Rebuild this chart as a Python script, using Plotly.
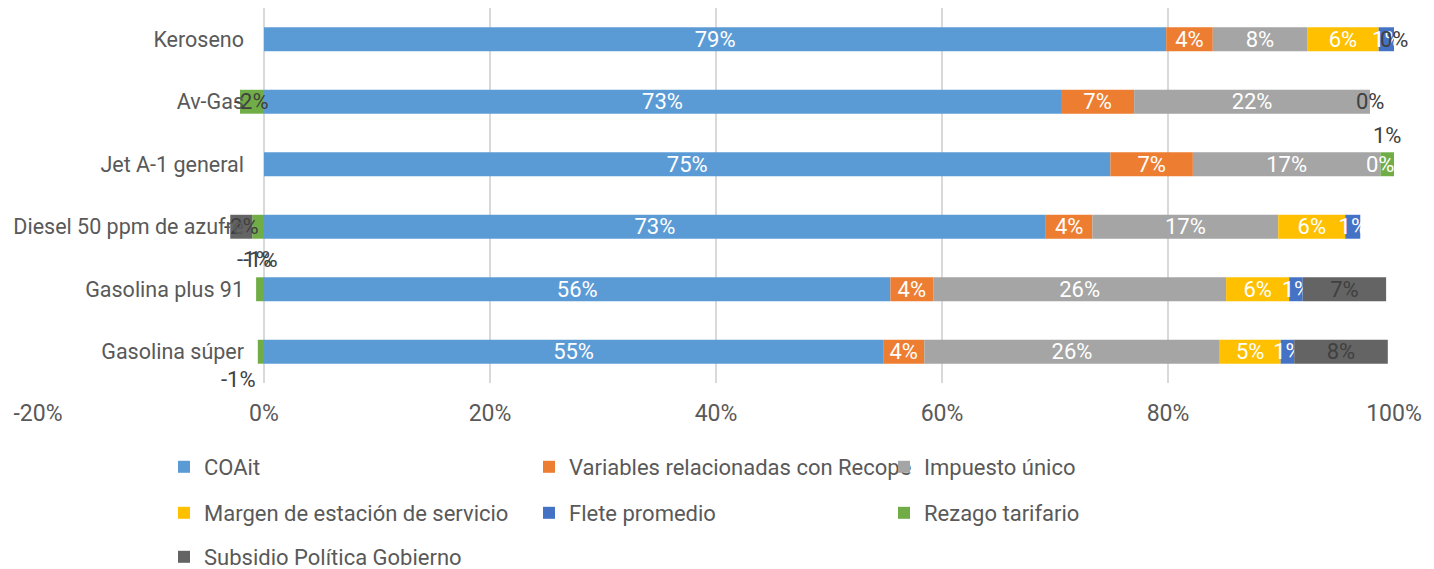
import plotly.graph_objects as go

# ---------------- data (shares of final price, %) ----------------
categories = ["Keroseno", "Av-Gas", "Jet A-1 general",
              "Diesel 50 ppm de azufre", "Gasolina plus 91", "Gasolina súper"]

coait     = [79.4, 73.0, 74.9, 73.0, 55.6, 54.9]
variables = [4.1, 6.7, 7.3, 4.35, 3.8, 3.65]
impuesto  = [8.3, 21.6, 16.6, 17.35, 26.0, 26.2]
margen    = [6.3, None, 0.0, 6.26, 5.6, 5.4]
flete     = [1.35, None, None, 1.40, 1.2, 1.2]
rezago    = [None, -2.2, 1.2, -1.1, -0.7, -0.55]
subsidio  = [0.0, 0.0, 0.0, -2.05, 7.4, 8.3]

series_names = ["COAit", "Variables relacionadas con Recope", "Impuesto único",
                "Margen de estación de servicio", "Flete promedio",
                "Rezago tarifario", "Subsidio Política Gobierno"]
series_values = [coait, variables, impuesto, margen, flete, rezago, subsidio]

x_ticks = [-20, 0, 20, 40, 60, 80, 100]

# ---------------- style ----------------
colors = ["#5B9BD5", "#ED7D31", "#A5A5A5", "#FFC000", "#4472C4", "#70AD47", "#646464"]
label_colors = ["white", "white", "white", "white", "white", "#404040", "#404040"]
FONT = "Roboto, sans-serif"
FS_LABEL = 22
FS_CAT = 21.5
FS_TICK = 23
FS_LEG = 22
GREY = "#595959"

# legend entry placement (pixel position of each entry's left edge / row centre)
legend_cols = [164, 529, 884]
legend_rows = [467, 513, 557]

# 100% stacked: each category normalised by the sum of absolute values
totals = [sum(abs(s[j]) for s in series_values if s[j] is not None)
          for j in range(len(categories))]


def norm(v, j):
    return None if v is None else v / totals[j] * 100


fig = go.Figure()
legend_ids = []
for i, (name, vals) in enumerate(zip(series_names, series_values)):
    lid = "legend" if i == 0 else f"legend{i + 1}"
    legend_ids.append(lid)
    xs = [norm(v, j) for j, v in enumerate(vals)]
    texts = ["" if (v is None or v == 0 or name == "Rezago tarifario") else f"{v:.0f}%"
             for v in vals]
    fig.add_trace(go.Bar(
        y=categories, x=xs, orientation="h", name=name,
        marker=dict(color=colors[i], line=dict(width=0)),
        text=texts, textposition="inside", insidetextanchor="middle", textangle=0,
        textfont=dict(color=label_colors[i], size=FS_LABEL, family=FONT),
        legend=lid, hoverinfo="skip", cliponaxis=False,
    ))

# labels for zero-size segments and for the "Rezago tarifario" series
rezago_offsets = {"Av-Gas": (0, 0), "Jet A-1 general": (0, 29),
                  "Diesel 50 ppm de azufre": (-4, -33), "Gasolina plus 91": (0, 30),
                  "Gasolina súper": (-22, -28)}
annotations = []
for j, cat in enumerate(categories):
    pos = 0.0
    neg = 0.0
    for i, vals in enumerate(series_values):
        v = vals[j]
        if v is None:
            continue
        n = norm(v, j)
        if series_names[i] == "Rezago tarifario":
            base = pos if v >= 0 else neg
            dx, dy = rezago_offsets.get(cat, (0, 0))
            annotations.append(dict(x=base + n / 2, y=cat, xref="x", yref="y",
                                    text=f"{v:.0f}%", showarrow=False,
                                    xshift=dx, yshift=dy,
                                    font=dict(size=FS_LABEL, family=FONT,
                                              color=label_colors[i])))
        elif v == 0:
            annotations.append(dict(x=pos, y=cat, xref="x", yref="y",
                                    text=f"{v:.0f}%", showarrow=False,
                                    font=dict(size=FS_LABEL, family=FONT,
                                              color=label_colors[i])))
        if v >= 0:
            pos += n
        else:
            neg += n

W, H = 1434, 569
L, R, T, B = 38, 40, 8, 186
plot_w = W - L - R
plot_h = H - T - B


def px_x(p):
    return (p - L) / plot_w


def px_y(p):
    return (H - B - p) / plot_h


legend_layout = {}
for i, lid in enumerate(legend_ids):
    legend_layout[lid] = dict(
        orientation="h", xanchor="left", yanchor="middle",
        x=px_x(legend_cols[i % 3]), y=px_y(legend_rows[i // 3]),
        font=dict(size=FS_LEG, family=FONT, color=GREY),
        bgcolor="rgba(0,0,0,0)", itemclick=False, itemdoubleclick=False)

fig.update_layout(
    width=W, height=H,
    margin=dict(l=L, r=R, t=T, b=B, autoexpand=False),
    barmode="relative", bargap=0.617,
    plot_bgcolor="white", paper_bgcolor="white",
    font=dict(family=FONT, size=FS_LEG, color=GREY),
    showlegend=True,
    xaxis=dict(range=[-20, 100], tickvals=x_ticks,
               ticktext=[f"{t}%" for t in x_ticks],
               showgrid=True, gridcolor="#D9D9D9", gridwidth=1.5,
               zeroline=False, showline=False, ticks="",
               ticklabelstandoff=14,
               tickfont=dict(size=FS_TICK, family=FONT, color=GREY), fixedrange=True),
    yaxis=dict(type="category", categoryorder="array", categoryarray=categories,
               autorange="reversed", anchor="free", position=px_x(L + plot_w / 6),
               showgrid=False, zeroline=False, showline=False, ticks="",
               ticklabelstandoff=20,
               tickfont=dict(size=FS_CAT, family=FONT, color=GREY), fixedrange=True),
    uniformtext=dict(minsize=FS_LABEL, mode="show"),
    annotations=annotations,
    **legend_layout,
)

fig.write_html("out.html")
